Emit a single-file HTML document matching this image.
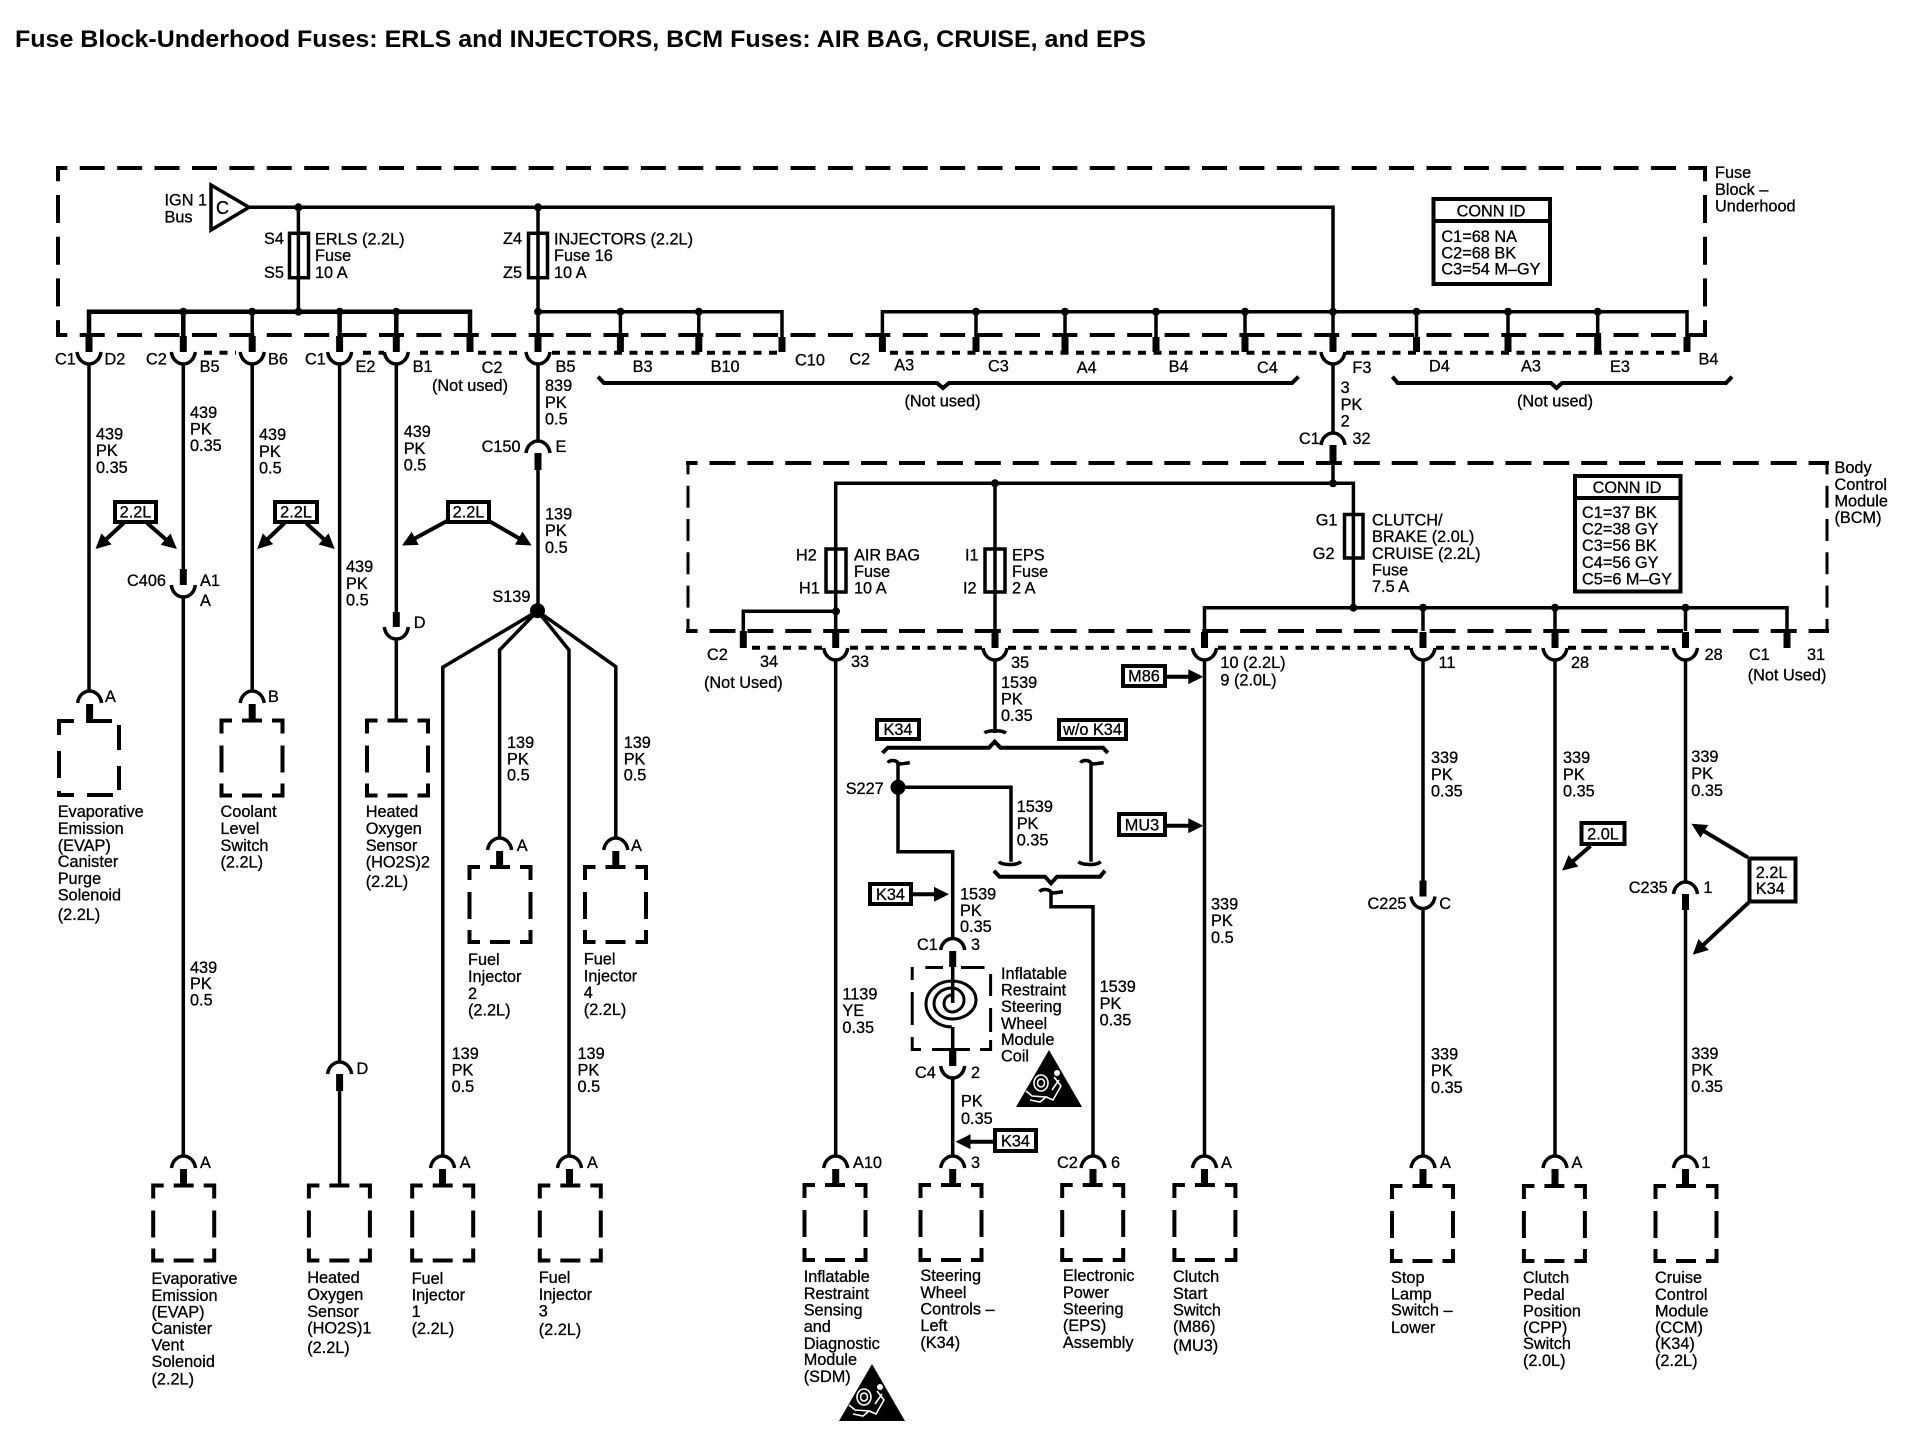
<!DOCTYPE html>
<html><head><meta charset="utf-8"><title>Fuse Block-Underhood Fuses</title>
<style>
html,body{margin:0;padding:0;background:#fff}
svg{display:block}
text{font-family:"Liberation Sans",Arial,sans-serif;font-size:16.3px;fill:#000;stroke:#000;stroke-width:.3}
.t{font-size:24px;font-weight:bold;stroke:none}
.m{text-anchor:middle}
.w{fill:none;stroke:#000;stroke-width:3.5}
.d{fill:none;stroke:#000;stroke-width:4}
.s{fill:none;stroke:#000;stroke-width:7}
.b{fill:#fff;stroke:#000;stroke-width:4}
.f{fill:none;stroke:#000;stroke-width:3.5}
</style></head><body>
<svg width="1912" height="1456" viewBox="0 0 1912 1456" xmlns="http://www.w3.org/2000/svg">
<defs>
<marker id="ar" viewBox="0 0 10 10" refX="7" refY="5" markerWidth="17" markerHeight="15" markerUnits="userSpaceOnUse" orient="auto"><path d="M0,0L10,5L0,10z"/></marker>
<g id="us"><path class="s" d="M0,-16V0"/><path class="w" d="M-12,0C-11,8 -5,12 0,12C5,12 11,8 12,0"/></g>
<g id="as"><path class="s" d="M0,1V18"/><path class="w" d="M-12,0C-11,-8 -5,-12 0,-12C5,-12 11,-8 12,0"/></g>
<path id="bx" class="d" d="M-30.5,13V0H-20M-10,0H10M20,0H30.5V13M30.5,25V52M30.5,63V75H20M10,75H-10M-20,75H-30.5V63M-30.5,52V25"/>
<circle id="dt" r="4"/>
<g id="wt"><path d="M0,0L33,57H-33z"/><g fill="none" stroke="#fff" stroke-width="1.6"><ellipse cx="-8" cy="33" rx="7" ry="8"/><ellipse cx="-8" cy="33" rx="3.5" ry="4"/><path d="M-23,41L-17,46L-3,47L-9,52L-19,50M5,27L12,36L4,50L-3,47M10,30L3,40"/></g><circle cx="8" cy="23" r="3" fill="#fff"/></g>
</defs>

<text class="t" x="15" y="47" textLength="1131" lengthAdjust="spacingAndGlyphs">Fuse Block-Underhood Fuses: ERLS and INJECTORS, BCM Fuses: AIR BAG, CRUISE, and EPS</text>

<!-- dashed module borders -->
<g fill="none" stroke="#000" stroke-width="4">
<path d="M56,168H1707" stroke-dasharray="25 12.41" stroke-dashoffset="13.7"/>
<path d="M56,335H1707" stroke-dasharray="25 12.41" stroke-dashoffset="13.7"/>
<path d="M58,168V337" stroke-dasharray="28 13.7" stroke-dashoffset="14.7"/>
<path d="M1705,168V337" stroke-dasharray="28 13.7" stroke-dashoffset="14.7"/>
<path d="M686,463H1829" stroke-dasharray="26 11.9" stroke-dashoffset="14.4"/>
<path d="M686,631H1829" stroke-dasharray="26 11.9" stroke-dashoffset="14.4"/>
<path d="M688,463V633" stroke-width="3" stroke-dasharray="22 11.3" stroke-dashoffset="10.6"/>
<path d="M1827,463V633" stroke-width="3" stroke-dasharray="22 11.3" stroke-dashoffset="10.6"/>
</g>
<!-- dotted connector lines -->
<g fill="none" stroke="#000" stroke-width="4" stroke-dasharray="8 7.5">
<path d="M204,352.7H236M363,352.7H384M420,352.7H462M478,352.7H522M552,352.7H782M890,352.7H1320M1346,352.7H1687"/>
<path d="M752,647.7H822M850,647.7H982M1008,647.7H1192M1218,647.7H1410M1436,647.7H1542M1568,647.7H1672"/>
</g>

<!-- top bus wires -->
<path d="M249,207.3H1333V337" class="w"/>
<path class="d" d="M211,185L249,207.3L211,230Z" style="stroke-width:3.5;fill:#fff"/>
<path class="w" d="M298.4,207V312M538,207V337"/>
<path class="w" style="stroke-width:4.5" d="M89,337V311.7H470V337M183.3,311V337M339.6,311V337M396.3,311V337"/>
<path class="w" d="M252.2,311V337M538,311.7H782V337M620.4,311V337M698.8,311V337M882.4,337V311.7H1687V337M976,311V337M1065,311V337M1156,311V337M1245,311V337M1416.5,311V337M1508,311V337M1597.7,311V337"/>
<rect class="f" x="289.5" y="233.3" width="19" height="44.4"/>
<rect class="f" x="528.5" y="233.3" width="19" height="44.4"/>
<g>
<use href="#dt" x="298.4" y="207.3"/><use href="#dt" x="538" y="207.3"/>
<use href="#dt" x="183.3" y="311.7"/><use href="#dt" x="252.2" y="311.7"/><use href="#dt" x="298.4" y="311.7"/><use href="#dt" x="339.6" y="311.7"/><use href="#dt" x="396.3" y="311.7"/>
<use href="#dt" x="538" y="311.7"/><use href="#dt" x="620.4" y="311.7"/><use href="#dt" x="698.8" y="311.7"/>
<use href="#dt" x="976" y="311.7"/><use href="#dt" x="1065" y="311.7"/><use href="#dt" x="1156" y="311.7"/><use href="#dt" x="1245" y="311.7"/><use href="#dt" x="1333" y="311.7"/><use href="#dt" x="1416.5" y="311.7"/><use href="#dt" x="1508" y="311.7"/><use href="#dt" x="1597.7" y="311.7"/>
</g>
<!-- top stubs -->
<path class="s" d="M470,337V352M620.4,337V352M698.8,337V352M782,337V352M882.4,337V352M976,337V352M1065,337V352M1156,337V352M1245,337V352M1416.5,337V352M1508,337V352M1597.7,337V352M1687,337V352"/>
<use href="#us" x="89" y="352"/><use href="#us" x="183.3" y="352"/><use href="#us" x="252.2" y="352"/><use href="#us" x="339.6" y="352"/><use href="#us" x="396.3" y="352"/><use href="#us" x="538" y="352"/><use href="#us" x="1333" y="352"/>

<!-- braces -->
<path class="d" d="M598,376.7L604,383H937L943,388L949,383H1292L1298.5,376.7"/>
<path class="d" d="M1392.4,376.7L1397.7,383H1551L1556.5,388L1562,383H1726L1732,376.7"/>
<path class="d" d="M882.4,753L887.8,747.7H989L994.7,741.7L1000.5,747.7H1103L1107.8,753"/>
<path class="d" d="M993.9,870.7L999.6,876.7H1045L1051,883.3L1057,876.7H1100L1105,870.7"/>

<!-- left harness wires -->
<path class="w" d="M89,364V691M183.3,364V570M183.3,596V1156M252.2,364V691M339.6,364V1062M339.6,1074V1185M396.3,364V612M396.3,639V720M538,364V440M538,453V611"/>
<path class="s" d="M183.3,569V585M538,453V470M396.3,612V627M339.6,1074V1091" />
<path class="w" d="M171.3,585C172.3,593 178,597 183.3,597C189,597 194.3,593 195.3,585M384.3,627C385.3,635 391,639 396.3,639C402,639 407.3,635 408.3,627"/>
<path class="w" d="M526,453C527,445 533,441 538,441C543,441 549,445 550,453M327.6,1074C328.6,1066 334.6,1062 339.6,1062C344.6,1062 350.6,1066 351.6,1074"/>
<!-- S139 -->
<path class="w" d="M537.5,611L442.8,667.3V1156M537.5,611L499.6,650V838M537.5,611L569,650V1156M537.5,611L615.8,666.7V838"/>
<circle cx="537.5" cy="610.7" r="7.5"/>

<!-- device connectors -->
<use href="#as" x="89.6" y="703"/><use href="#as" x="252.2" y="703"/>
<use href="#as" x="499.6" y="850"/><use href="#as" x="615.8" y="850"/>
<use href="#as" x="183.5" y="1168"/><use href="#as" x="442.5" y="1168"/><use href="#as" x="569.5" y="1168"/>
<use href="#as" x="835.7" y="1168"/><use href="#as" x="952.7" y="1168"/><use href="#as" x="1093" y="1168"/><use href="#as" x="1204.5" y="1168"/><use href="#as" x="1423" y="1168"/><use href="#as" x="1555" y="1168"/><use href="#as" x="1685.5" y="1168"/>
<!-- device boxes -->
<path class="d" d="M59,735V721H74M86,721H112M59,751V778M59,791V795H74V795M87,795H113M119,725V750M119,766V790" />
<use href="#bx" x="252" y="720.5"/><use href="#bx" x="397.5" y="720.5"/>
<use href="#bx" x="500" y="867"/><use href="#bx" x="615.5" y="867"/>
<use href="#bx" x="183.7" y="1185.5"/><use href="#bx" x="339.4" y="1185.5"/><use href="#bx" x="442.7" y="1185.5"/><use href="#bx" x="570.3" y="1185.5"/>
<use href="#bx" x="835" y="1185"/><use href="#bx" x="951" y="1185"/><use href="#bx" x="1092.7" y="1185"/><use href="#bx" x="1204.9" y="1185"/>
<use href="#bx" x="1422.5" y="1186"/><use href="#bx" x="1554.4" y="1186"/><use href="#bx" x="1686" y="1186"/>

<!-- BCM internals -->
<path class="w" d="M835.7,631V483.3H1353.4V607.7M995,483V631M1333,364V434M1333,445V484"/>
<path class="s" d="M1333,445V463"/>
<path class="w" d="M1321,445C1322,437 1328,433 1333,433C1338,433 1344,437 1345,445"/>
<use href="#dt" x="995" y="483.3"/><use href="#dt" x="1333" y="483.3"/>
<rect class="f" x="826" y="549" width="20" height="43"/><rect class="f" x="985" y="549" width="20" height="43"/><rect class="f" x="1344.5" y="514.5" width="18.5" height="43.5"/>
<path class="w" d="M743.3,632V611.3H836M1204.5,631V607.7H1787V631M1423,608V631M1555,608V631M1685.5,608V631"/>
<use href="#dt" x="836" y="611.3"/><use href="#dt" x="1353.4" y="607.7"/><use href="#dt" x="1423" y="607.7"/><use href="#dt" x="1555" y="607.7"/><use href="#dt" x="1685.5" y="607.7"/>
<path class="s" d="M743.3,631V648M1787,631V648"/>
<use href="#us" x="835.7" y="648"/><use href="#us" x="995" y="648"/><use href="#us" x="1204.5" y="648"/><use href="#us" x="1423" y="648"/><use href="#us" x="1555" y="648"/><use href="#us" x="1685.5" y="648"/>
<path class="w" d="M835.7,660V1156M1204.5,660V1156M1423,660V881M1423,908V1156M1555,660V1156M1685.5,660V883M1685.5,910V1156"/>
<use href="#us" x="1423" y="896.5"/>
<path class="s" d="M1685.5,894V910"/>
<path class="w" d="M1673.5,894C1674.5,886 1680.5,882 1685.5,882C1690.5,882 1696.5,886 1697.5,894"/>

<!-- K34 wiring -->
<path class="w" d="M995,660V733M984.5,733C988,730 1002,730 1006,733"/>
<path class="w" d="M887.8,762.7C890,759.5 896,760 898,763C900,765 905,763 909.8,762.7M898,763V851.7H952.7V938"/>
<circle cx="898" cy="787.3" r="7.5"/>
<path class="w" d="M898,787.3H1011V861.7M998.8,861.7C1002,865 1016,866 1021,861.7"/>
<path class="w" d="M1080.4,762.7C1083,759.5 1089,760 1091,763C1093,765 1098,763 1103.7,762.7M1091,763V861.7M1078.4,861.7C1082,865 1096,866 1100.8,861.7"/>
<path class="w" d="M1039.6,891.7C1042,888.5 1049,889 1051,892C1053,894 1058,892 1063,891.7M1051,892V906.7H1093V1157"/>
<path class="w" d="M940.7,950C941.7,942 947.7,938.5 952.7,938.5C957.7,938.5 963.7,942 964.7,950"/>
<path class="s" d="M952.7,951V967M952.7,1049V1066"/>
<use href="#us" x="952.7" y="1066"/>
<path class="w" d="M952.7,967V1003M952.7,1027V1049M952.7,1078V1156"/>
<!-- coil -->
<path class="d" style="stroke-width:3" d="M925.3,967.5H943M961,967.5H984.5M912.2,967V980M912.2,992V1025M912.2,1037V1049.5H921M932,1049.5H970M980,1049.5H990.6V1040M990.6,1032V1008M990.6,996V974"/>
<path class="w" style="stroke-width:3" d="M952,995A8,8.5 0 0 0 952,1012A12,12 0 0 0 952,988A18,15.5 0 0 0 952,1019A24,19 0 0 0 952,981A26,23 0 0 0 952,1027"/>
<use href="#wt" x="1049" y="1050"/><use href="#wt" x="872" y="1364"/>

<!-- flag boxes + arrows -->
<g stroke="#000" stroke-width="4" fill="none">
<path marker-end="url(#ar)" d="M123.7,523L98.8,546"/><path marker-end="url(#ar)" d="M147,523L173.5,546"/>
<path marker-end="url(#ar)" d="M284.5,523L260.4,546"/><path marker-end="url(#ar)" d="M306,523L331.4,546"/>
<path marker-end="url(#ar)" d="M447,521L406,543.3"/><path marker-end="url(#ar)" d="M489,521L527.8,543.3"/>
<path marker-end="url(#ar)" d="M1165,676.7H1198.8"/><path marker-end="url(#ar)" d="M1165,825.7H1198.8"/>
<path marker-end="url(#ar)" d="M911,894.3H944.5"/><path marker-end="url(#ar)" d="M994,1141.7H960"/>
<path marker-end="url(#ar)" d="M1590.5,846L1565.5,867.7"/>
<path marker-end="url(#ar)" d="M1747.7,857.3L1695.3,826"/><path marker-end="url(#ar)" d="M1748.5,902.7L1696,951.7"/>
</g>
<rect class="b" x="115" y="502" width="41" height="20"/><rect class="b" x="275" y="502" width="42" height="20"/><rect class="b" x="448" y="502" width="41" height="20"/>
<rect class="b" x="877" y="720" width="42" height="19"/><rect class="b" x="1059" y="720" width="67" height="19"/>
<rect class="b" x="1123" y="666" width="42" height="20"/><rect class="b" x="1119" y="814" width="46" height="21"/>
<rect class="b" x="870" y="884" width="41" height="20"/><rect class="b" x="995" y="1130" width="41" height="21"/>
<rect class="b" x="1581.5" y="823" width="43" height="21"/><rect class="b" x="1749.5" y="858.5" width="46" height="43"/>
<!-- conn id -->
<rect class="b" x="1433.5" y="199" width="116.5" height="85"/><path class="d" d="M1433,221H1550"/>
<rect class="b" x="1575" y="476" width="105.5" height="115.5"/><path class="d" d="M1575,498H1681"/>

<!-- labels -->
<text x="164.5" y="205.5">IGN 1</text><text x="164.5" y="222.5">Bus</text><text x="216" y="214" style="font-size:18px">C</text>
<text x="264" y="244">S4</text><text x="264" y="278">S5</text>
<text x="315" y="244.5">ERLS (2.2L)</text><text x="315" y="261">Fuse</text><text x="315" y="278">10 A</text>
<text x="503" y="244">Z4</text><text x="503" y="278">Z5</text>
<text x="554" y="244.5">INJECTORS (2.2L)</text><text x="554" y="261">Fuse 16</text><text x="554" y="278">10 A</text>
<text x="1715" y="178">Fuse</text><text x="1715" y="195">Block –</text><text x="1715" y="211.5">Underhood</text>
<text class="m" x="1491" y="216.5">CONN ID</text>
<text x="1441.4" y="242">C1=68 NA</text><text x="1441.4" y="258.5">C2=68 BK</text><text x="1441.4" y="274.5">C3=54 M–GY</text>

<text x="55" y="364.5">C1</text><text x="104.5" y="364.5">D2</text><text x="146" y="364.5">C2</text><text x="199.6" y="372">B5</text><text x="268" y="364.5">B6</text>
<text x="305" y="364.5">C1</text><text x="355.5" y="372">E2</text><text x="412.6" y="372">B1</text><text x="481.6" y="373">C2</text><text x="432" y="391">(Not used)</text>
<text x="555.5" y="372">B5</text><text x="632.6" y="372">B3</text><text x="710.6" y="372">B10</text><text x="795" y="365.5">C10</text><text x="849.4" y="364.5">C2</text>
<text x="894.3" y="370.5">A3</text><text x="988" y="371.5">C3</text><text x="1076.7" y="373">A4</text><text x="1168.6" y="372">B4</text><text x="1257" y="373">C4</text>
<text x="904.5" y="406.5">(Not used)</text><text x="1352.4" y="373">F3</text><text x="1429" y="371.5">D4</text><text x="1521" y="371.5">A3</text><text x="1610" y="372">E3</text><text x="1698.5" y="364.5">B4</text><text x="1517" y="406.5">(Not used)</text>
<text x="1340.6" y="393">3</text><text x="1340.6" y="410">PK</text><text x="1340.6" y="426.5">2</text>
<text x="1299" y="444">C1</text><text x="1352.4" y="444">32</text>

<text x="96" y="439.5">439</text><text x="96" y="456">PK</text><text x="96" y="473">0.35</text>
<text x="190" y="418">439</text><text x="190" y="434.5">PK</text><text x="190" y="451">0.35</text>
<text x="259" y="440">439</text><text x="259" y="457">PK</text><text x="259" y="473.5">0.5</text>
<text x="346" y="572">439</text><text x="346" y="589">PK</text><text x="346" y="605.5">0.5</text>
<text x="403.7" y="437">439</text><text x="403.7" y="454">PK</text><text x="403.7" y="470.5">0.5</text>
<text x="545" y="391">839</text><text x="545" y="408">PK</text><text x="545" y="424.5">0.5</text>
<text x="481.6" y="452">C150</text><text x="555.5" y="452">E</text>
<text x="545" y="519.5">139</text><text x="545" y="536">PK</text><text x="545" y="553">0.5</text>
<text class="m" x="135.5" y="517.5">2.2L</text><text class="m" x="296" y="517.5">2.2L</text><text class="m" x="468.5" y="517.5">2.2L</text>

<text x="127" y="586">C406</text><text x="200" y="586">A1</text><text x="200" y="606">A</text>
<text x="492.4" y="602">S139</text><text x="413.7" y="628">D</text>
<text x="105" y="702">A</text><text x="268" y="702">B</text><text x="516.8" y="851">A</text><text x="631" y="851">A</text>
<text x="507" y="748">139</text><text x="507" y="764.5">PK</text><text x="507" y="780.5">0.5</text>
<text x="623.7" y="748">139</text><text x="623.7" y="764.5">PK</text><text x="623.7" y="780.5">0.5</text>
<text x="57.7" y="817">Evaporative</text><text x="57.7" y="834">Emission</text><text x="57.7" y="851">(EVAP)</text><text x="57.7" y="867">Canister</text><text x="57.7" y="884">Purge</text><text x="57.7" y="900.5">Solenoid</text><text x="57.7" y="920">(2.2L)</text>
<text x="220.5" y="817">Coolant</text><text x="220.5" y="834">Level</text><text x="220.5" y="851">Switch</text><text x="220.5" y="867.5">(2.2L)</text>
<text x="365.7" y="817">Heated</text><text x="365.7" y="834">Oxygen</text><text x="365.7" y="851">Sensor</text><text x="365.7" y="867.5">(HO2S)2</text><text x="365.7" y="887">(2.2L)</text>
<text x="468" y="965">Fuel</text><text x="468" y="982">Injector</text><text x="468" y="999">2</text><text x="468" y="1015.5">(2.2L)</text>
<text x="583.8" y="964.5">Fuel</text><text x="583.8" y="981.5">Injector</text><text x="583.8" y="998">4</text><text x="583.8" y="1015">(2.2L)</text>
<text x="190" y="973">439</text><text x="190" y="989">PK</text><text x="190" y="1005.5">0.5</text>
<text x="451.6" y="1059">139</text><text x="451.6" y="1075.5">PK</text><text x="451.6" y="1092">0.5</text>
<text x="577.5" y="1059">139</text><text x="577.5" y="1075.5">PK</text><text x="577.5" y="1092">0.5</text>
<text x="356.5" y="1074">D</text>
<text x="200" y="1168">A</text><text x="459.6" y="1168">A</text><text x="587" y="1168">A</text>
<text x="151.5" y="1284">Evaporative</text><text x="151.5" y="1301">Emission</text><text x="151.5" y="1317.5">(EVAP)</text><text x="151.5" y="1334">Canister</text><text x="151.5" y="1350.5">Vent</text><text x="151.5" y="1367">Solenoid</text><text x="151.5" y="1384.5">(2.2L)</text>
<text x="307.2" y="1283">Heated</text><text x="307.2" y="1300">Oxygen</text><text x="307.2" y="1317">Sensor</text><text x="307.2" y="1333.5">(HO2S)1</text><text x="307.2" y="1353">(2.2L)</text>
<text x="411.6" y="1284">Fuel</text><text x="411.6" y="1300.5">Injector</text><text x="411.6" y="1317">1</text><text x="411.6" y="1334">(2.2L)</text>
<text x="538.7" y="1283">Fuel</text><text x="538.7" y="1300">Injector</text><text x="538.7" y="1316.5">3</text><text x="538.7" y="1335">(2.2L)</text>

<text x="1834.5" y="473">Body</text><text x="1834.5" y="490">Control</text><text x="1834.5" y="506.5">Module</text><text x="1834.5" y="523">(BCM)</text>
<text class="m" x="1627" y="493">CONN ID</text>
<text x="1582" y="518">C1=37 BK</text><text x="1582" y="534.5">C2=38 GY</text><text x="1582" y="551">C3=56 BK</text><text x="1582" y="568">C4=56 GY</text><text x="1582" y="584.5">C5=6 M–GY</text>
<text x="796" y="560.5">H2</text><text x="799" y="593.5">H1</text><text x="965" y="560.5">I1</text><text x="963" y="593.5">I2</text>
<text x="854" y="560.5">AIR BAG</text><text x="854" y="577">Fuse</text><text x="854" y="593.5">10 A</text>
<text x="1012" y="560.5">EPS</text><text x="1012" y="577">Fuse</text><text x="1012" y="593.5">2 A</text>
<text x="1315.7" y="525.5">G1</text><text x="1312.8" y="559">G2</text>
<text x="1372" y="525.5">CLUTCH/</text><text x="1372" y="542">BRAKE (2.0L)</text><text x="1372" y="559">CRUISE (2.2L)</text><text x="1372" y="575.5">Fuse</text><text x="1372" y="592">7.5 A</text>

<text x="707" y="660">C2</text><text x="760" y="667">34</text><text x="704" y="688">(Not Used)</text><text x="851" y="667">33</text><text x="1011" y="668">35</text>
<text x="1220.4" y="668">10 (2.2L)</text><text x="1220.4" y="685.5">9 (2.0L)</text><text x="1438.5" y="668">11</text><text x="1571" y="668">28</text><text x="1704.6" y="660">28</text><text x="1749" y="660">C1</text><text x="1807" y="660">31</text><text x="1747.7" y="680.5">(Not Used)</text>
<text x="1001" y="688">1539</text><text x="1001" y="704.5">PK</text><text x="1001" y="721">0.35</text>
<text class="m" x="898" y="735">K34</text><text class="m" x="1092.5" y="735">w/o K34</text><text class="m" x="1144" y="681.5">M86</text><text class="m" x="1142" y="830.5">MU3</text>
<text class="m" x="890.5" y="900">K34</text><text class="m" x="1015.5" y="1146.5">K34</text><text class="m" x="1603" y="839.5">2.0L</text>
<text x="1755.8" y="878">2.2L</text><text x="1755.8" y="894">K34</text>
<text x="845.7" y="794">S227</text>
<text x="1016.7" y="812">1539</text><text x="1016.7" y="829">PK</text><text x="1016.7" y="845.5">0.35</text>
<text x="960" y="899.5">1539</text><text x="960" y="916">PK</text><text x="960" y="932">0.35</text>
<text x="917" y="950">C1</text><text x="971" y="950">3</text><text x="915" y="1078">C4</text><text x="971" y="1078">2</text>
<text x="1001" y="979">Inflatable</text><text x="1001" y="995.5">Restraint</text><text x="1001" y="1012">Steering</text><text x="1001" y="1029">Wheel</text><text x="1001" y="1045">Module</text><text x="1001" y="1061.5">Coil</text>
<text x="842.4" y="999.5">1139</text><text x="842.4" y="1016">YE</text><text x="842.4" y="1033">0.35</text>
<text x="1099.6" y="992">1539</text><text x="1099.6" y="1009">PK</text><text x="1099.6" y="1025.5">0.35</text>
<text x="1211" y="909.5">339</text><text x="1211" y="926">PK</text><text x="1211" y="943">0.5</text>
<text x="961" y="1106.5">PK</text><text x="961" y="1124">0.35</text>
<text x="853" y="1168">A10</text><text x="971" y="1168">3</text><text x="1057" y="1168">C2</text><text x="1111" y="1168">6</text><text x="1221" y="1168">A</text>
<text x="803.7" y="1282">Inflatable</text><text x="803.7" y="1299">Restraint</text><text x="803.7" y="1315.5">Sensing</text><text x="803.7" y="1332">and</text><text x="803.7" y="1349">Diagnostic</text><text x="803.7" y="1365">Module</text><text x="803.7" y="1382">(SDM)</text>
<text x="920.4" y="1281">Steering</text><text x="920.4" y="1298">Wheel</text><text x="920.4" y="1314.5">Controls –</text><text x="920.4" y="1331">Left</text><text x="920.4" y="1348">(K34)</text>
<text x="1062.9" y="1281">Electronic</text><text x="1062.9" y="1298">Power</text><text x="1062.9" y="1314.5">Steering</text><text x="1062.9" y="1331">(EPS)</text><text x="1062.9" y="1348">Assembly</text>
<text x="1173" y="1282">Clutch</text><text x="1173" y="1299">Start</text><text x="1173" y="1315.5">Switch</text><text x="1173" y="1332">(M86)</text><text x="1173" y="1351">(MU3)</text>

<text x="1431" y="763">339</text><text x="1431" y="780">PK</text><text x="1431" y="796.5">0.35</text>
<text x="1563" y="763">339</text><text x="1563" y="780">PK</text><text x="1563" y="796.5">0.35</text>
<text x="1691.3" y="762">339</text><text x="1691.3" y="779">PK</text><text x="1691.3" y="796">0.35</text>
<text x="1367.5" y="909">C225</text><text x="1439.3" y="909">C</text><text x="1628.8" y="893">C235</text><text x="1703.4" y="893">1</text>
<text x="1431" y="1059.5">339</text><text x="1431" y="1076">PK</text><text x="1431" y="1093">0.35</text>
<text x="1691.3" y="1059">339</text><text x="1691.3" y="1075.5">PK</text><text x="1691.3" y="1092">0.35</text>
<text x="1440" y="1168">A</text><text x="1571.5" y="1168">A</text><text x="1701.4" y="1168">1</text>
<text x="1391" y="1283">Stop</text><text x="1391" y="1299.5">Lamp</text><text x="1391" y="1315.5">Switch –</text><text x="1391" y="1333">Lower</text>
<text x="1523" y="1283">Clutch</text><text x="1523" y="1300">Pedal</text><text x="1523" y="1316.5">Position</text><text x="1523" y="1333">(CPP)</text><text x="1523" y="1349">Switch</text><text x="1523" y="1366">(2.0L)</text>
<text x="1655" y="1283">Cruise</text><text x="1655" y="1300">Control</text><text x="1655" y="1316.5">Module</text><text x="1655" y="1333">(CCM)</text><text x="1655" y="1349">(K34)</text><text x="1655" y="1366">(2.2L)</text>
</svg>
</body></html>
